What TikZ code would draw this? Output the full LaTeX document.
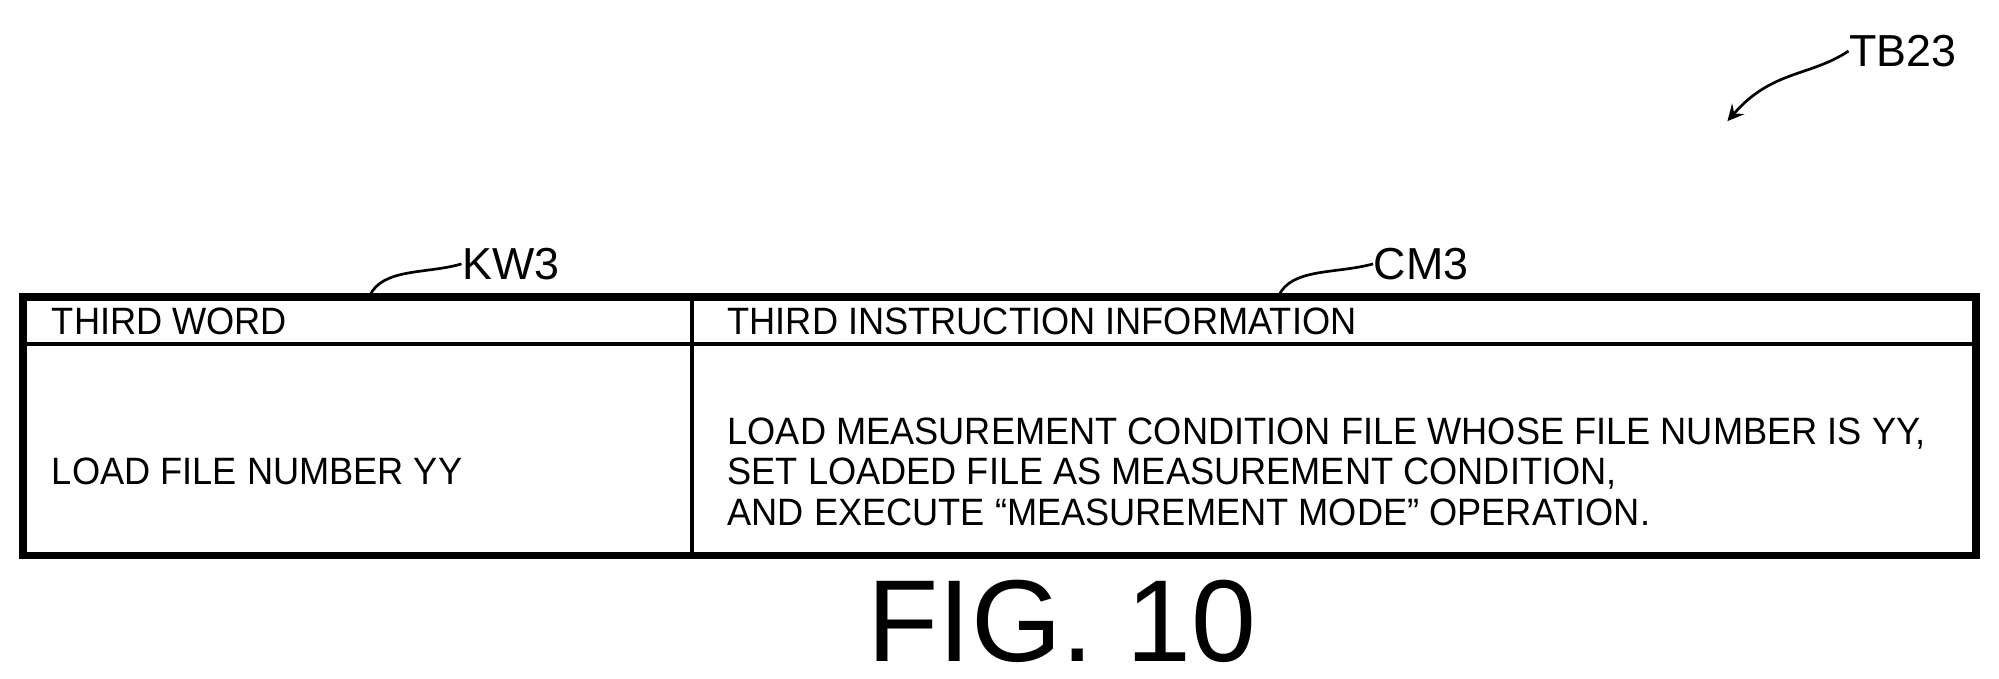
\documentclass[tikz,border=0pt]{standalone}
\usepackage{fontspec}
\setmainfont{Liberation Sans}
\usetikzlibrary{positioning}
\newcommand{\narrowtext}[1]{\scalebox{0.95}[1]{#1}}
\tikzset{
  celltext/.style={anchor=west,inner sep=0pt,font=\fontsize{8.5}{9.1}\selectfont,align=left},
  reflabel/.style={inner sep=0pt,font=\fontsize{10}{12}\selectfont},
  leader/.style={line width=.6pt}
}
\begin{document}
\begin{tikzpicture}[x=0.01cm,y=-0.01cm]
\useasboundingbox (0,0) rectangle (1568,532);

        % table frame
        \draw [line width=1.6pt] (18,233) rectangle (1550,436);
        \draw [line width=1pt] (18,270) -- (1550,270); % header line
        \draw [line width=1pt] (543,233) -- (543,436); % column line

        % cells
        \node [celltext] (kwhead) at (40,252) {\narrowtext{THIRD WORD}};
        \node [celltext] (cmhead) at (570,252) {\narrowtext{THIRD INSTRUCTION INFORMATION}};
        \node [celltext] (kwbody) at (40,370) {\narrowtext{LOAD FILE NUMBER YY}};
        \node [celltext] (cmbody) at (570,370) {\narrowtext{LOAD MEASUREMENT CONDITION FILE WHOSE FILE NUMBER IS YY,}\\
          \narrowtext{SET LOADED FILE AS MEASUREMENT CONDITION,}\\
          \narrowtext{AND EXECUTE ``MEASUREMENT MODE'' OPERATION.}};

        % labels
        \node [reflabel,anchor=west] (kw) at (362,207) {KW3};
        \node [reflabel,anchor=west] (cm) at (1077,207) {CM3};
        \node [reflabel,anchor=west] (tb) at (1450,40) {TB23};
        \coordinate (kwend) at (290,232);
        \coordinate (cmend) at (1003,232);
        \coordinate (tbend) at (1355,95);
        \draw [leader] (kwend) .. controls (300,210) and (335,215) .. (kw.west);
        \draw [leader] (cmend) .. controls (1013,210) and (1048,215) .. (cm.west);
        \draw [leader,->,>=stealth] (tb.west) .. controls (1420,60) and (1390,55) .. (tbend);

        % figure label
        \node [inner sep=0pt,font=\fontsize{26}{30}\selectfont] (fig) at (833,487) {FIG. 10};

\end{tikzpicture}
\end{document}
